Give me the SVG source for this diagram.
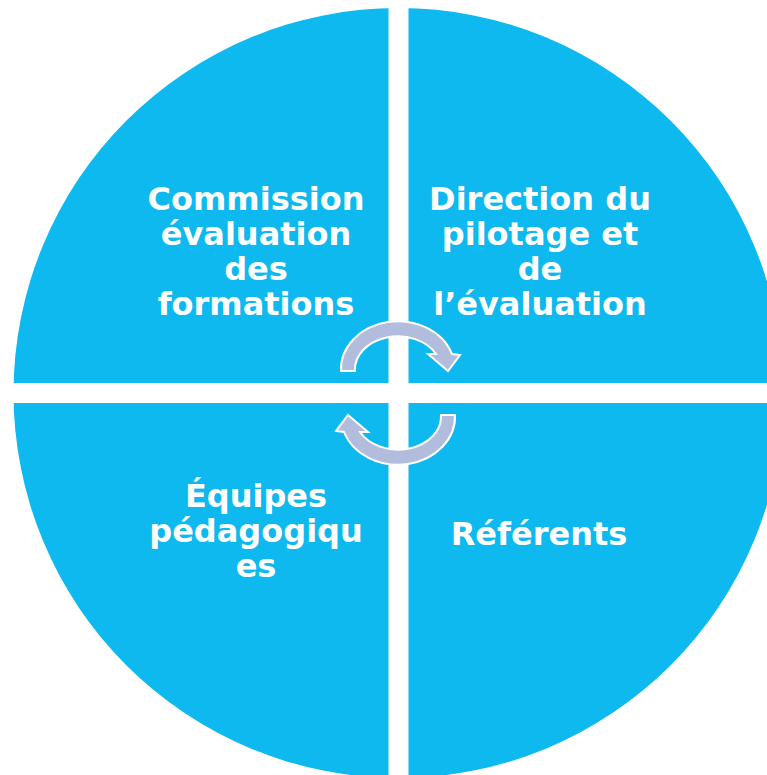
<svg xmlns="http://www.w3.org/2000/svg" width="767" height="775" viewBox="0 0 767 775">
<style>
.q{fill:#0DB9EF}
.t{font-family:"DejaVu Sans",Verdana,sans-serif;font-weight:bold;font-size:32px;fill:#FFFFFF;text-anchor:middle}
.arr{fill:#B2BCDD;stroke:#FFFFFF;stroke-width:2;stroke-linejoin:miter}
</style>
<rect width="767" height="775" fill="#FFFFFF"/>
<g id="circle">
<circle class="q" cx="398.5" cy="393" r="385"/>
<rect x="388.5" y="0" width="20" height="775" fill="#FFFFFF"/>
<rect x="0" y="383" width="767" height="20" fill="#FFFFFF"/>
</g>
<g id="node-commission">
<text class="t" x="256" y="210">Commission</text>
<text class="t" x="256" y="245">évaluation</text>
<text class="t" x="256" y="280">des</text>
<text class="t" x="256" y="315">formations</text>
</g>
<g id="node-direction">
<text class="t" x="540" y="210">Direction du</text>
<text class="t" x="540" y="245">pilotage et</text>
<text class="t" x="540" y="280">de</text>
<text class="t" x="540" y="315">l’évaluation</text>
</g>
<g id="node-equipes">
<text class="t" x="256" y="507">Équipes</text>
<text class="t" x="256" y="542">pédagogiqu</text>
<text class="t" x="256" y="577">es</text>
</g>
<g id="node-referents">
<text class="t" x="539" y="545">Référents</text>
</g>
<g id="connectors">
<path id="arrow-top" class="arr" d="M 341 371 A 57 48 0 0 1 452 354 L 460 355 L 448 371 L 428 354 L 436 354 A 43 33 0 0 0 355 371 Z"/>
<path id="arrow-bottom" class="arr" transform="rotate(180 398 393)" d="M 341 371 A 57 48 0 0 1 452 354 L 460 355 L 448 371 L 428 354 L 436 354 A 43 33 0 0 0 355 371 Z"/>
</g>
</svg>
